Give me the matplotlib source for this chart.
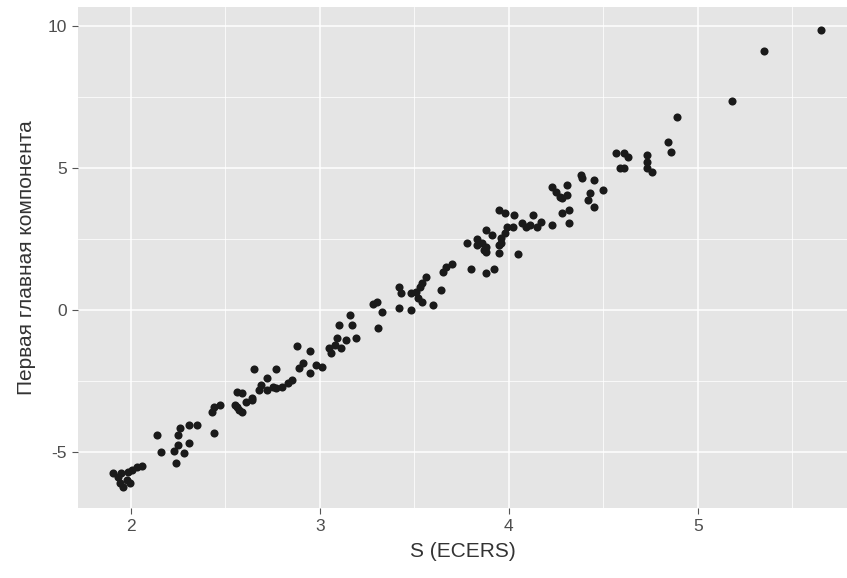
import matplotlib
matplotlib.use("Agg")
import matplotlib.pyplot as plt
from matplotlib.ticker import MultipleLocator

# S (ECERS) vs first principal component
s_ecers = [
    1.905, 1.93, 1.94, 1.96, 1.95, 1.98, 1.995, 2.005, 2.03, 2.06, 1.985,
    2.14, 2.16, 2.23, 2.24, 2.25, 2.28, 2.31, 2.25, 2.26, 2.31, 2.35, 2.44,
    2.43, 2.44, 2.47, 2.55, 2.56, 2.57, 2.59, 2.61, 2.64,
    2.56, 2.59, 2.64, 2.65, 2.68, 2.69, 2.72, 2.72, 2.75, 2.77, 2.77, 2.80,
    2.83, 2.85, 2.88, 2.89, 2.91, 2.95, 2.95, 2.98, 3.01, 3.05, 3.06, 3.08,
    3.09, 3.11, 3.14, 3.19, 3.10, 3.17, 3.31,
    3.16, 3.28, 3.30, 3.33, 3.42, 3.43, 3.42, 3.48, 3.48, 3.51, 3.53, 3.54,
    3.56, 3.52, 3.54, 3.60, 3.64, 3.65, 3.67, 3.70, 3.80, 3.88, 3.92, 3.78,
    3.83, 3.88, 3.88, 3.95, 3.96,
    3.83, 3.86, 3.87, 3.88, 3.91, 3.95, 3.96, 3.98, 3.99, 3.95, 3.98, 4.03,
    4.02, 4.05, 4.07, 4.09, 4.13, 4.11, 4.15, 4.17, 4.23, 4.23, 4.25, 4.27,
    4.31, 4.31, 4.28, 4.32, 4.32, 4.43, 4.42, 4.45, 4.50, 4.28, 4.38, 4.39,
    4.45,
    4.57, 4.61, 4.63, 4.59, 4.61, 4.73, 4.73, 4.73, 4.76, 4.84, 4.86, 4.89,
    5.18, 5.35, 5.65,
]
pc1 = [
    -5.74, -5.88, -6.09, -6.23, -5.74, -5.99, -6.09, -5.63, -5.53, -5.49, -5.70,
    -4.40, -5.00, -4.96, -5.39, -4.75, -5.04, -4.68, -4.40, -4.16, -4.05, -4.05, -4.33,
    -3.59, -3.42, -3.35, -3.35, -3.42, -3.52, -3.59, -3.24, -3.17,
    -2.89, -2.92, -3.10, -2.08, -2.82, -2.64, -2.39, -2.82, -2.71, -2.08, -2.75, -2.71,
    -2.57, -2.46, -1.27, -2.04, -1.87, -1.44, -2.22, -1.94, -2.00, -1.34, -1.51, -1.23,
    -0.99, -1.34, -1.06, -0.99, -0.53, -0.53, -0.63,
    -0.18, 0.22, 0.30, -0.07, 0.81, 0.60, 0.07, 0.00, 0.60, 0.63, 0.81, 0.95,
    1.16, 0.42, 0.28, 0.18, 0.70, 1.34, 1.51, 1.62, 1.44, 1.30, 1.44, 2.36,
    2.29, 2.22, 2.04, 2.00, 2.36,
    2.50, 2.36, 2.11, 2.82, 2.64, 2.29, 2.54, 2.71, 2.92, 3.52, 3.42, 3.35,
    2.92, 1.97, 3.06, 2.92, 3.35, 2.99, 2.92, 3.10, 2.99, 4.33, 4.15, 3.98,
    4.40, 4.05, 3.42, 3.52, 3.06, 4.12, 3.87, 3.63, 4.23, 3.94, 4.75, 4.65,
    4.58,
    5.53, 5.53, 5.39, 5.00, 5.00, 5.46, 5.21, 5.00, 4.86, 5.92, 5.56, 6.80,
    7.36, 9.12, 9.86,
]

x_ticks = [2, 3, 4, 5]
y_ticks = [-5, 0, 5, 10]

plt.rcParams['font.family'] = ['Liberation Sans', 'DejaVu Sans']

fig = plt.figure(figsize=(8.47, 5.78), dpi=100)
ax = fig.add_axes([78 / 847, 70 / 578, 1 - 78 / 847, 501 / 578])
ax.set_facecolor('#E5E5E5')

ax.scatter(s_ecers, pc1, s=34, color='#1a1a1a', linewidths=0, zorder=3)

ax.set_xlim(1.72, 5.79)
ax.set_ylim(-6.97, 10.67)
ax.set_xticks(x_ticks)
ax.set_yticks(y_ticks)
ax.set_yticklabels([str(v) for v in y_ticks])
ax.xaxis.set_minor_locator(MultipleLocator(0.5))
ax.yaxis.set_minor_locator(MultipleLocator(2.5))

ax.grid(which='major', color='white', linewidth=1.1)
ax.grid(which='minor', color='white', linewidth=0.55)
ax.set_axisbelow(True)
for sp in ax.spines.values():
    sp.set_visible(False)

ax.tick_params(which='major', length=4, width=0.8, color='#555555',
               labelsize=12.5, labelcolor='#4D4D4D', pad=4)
ax.tick_params(which='minor', length=0)

ax.set_xlabel('S (ECERS)', fontsize=15, color='#333333', labelpad=6)
ax.set_ylabel('Первая главная компонента', fontsize=15, color='#333333', labelpad=8)

fig.savefig('out.png', dpi=100)
